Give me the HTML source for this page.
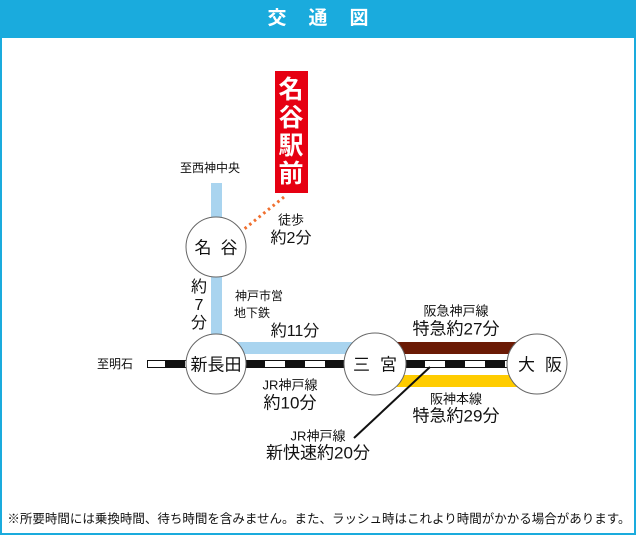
<!DOCTYPE html>
<html><head><meta charset="utf-8"><style>
html,body{margin:0;padding:0;background:#fff}
body{width:636px;height:535px;position:relative;overflow:hidden;font-family:"Liberation Sans","Noto Sans CJK JP",sans-serif;color:#111}
.frame{position:absolute;left:0;top:0;width:632px;height:531px;border:2px solid #1aabdd}
.hdr{position:absolute;left:0;top:0;width:636px;height:38px;background:#1aabdd;color:#fff;font-weight:bold;font-size:19px;text-align:center;line-height:38px;letter-spacing:22px;text-indent:22px}
.t{position:absolute;white-space:nowrap;transform:translate(-50%,-50%);line-height:1}
</style></head><body>
<div class="frame"></div>
<div class="hdr">交通図</div>
<svg width="636" height="535" style="position:absolute;left:0;top:0">
<rect x="211" y="183" width="11" height="160" fill="#a9d4ef"/>
<rect x="216" y="342" width="160" height="12" fill="#a9d4ef"/>
<rect x="397" y="342" width="120" height="12" fill="#6b1a05"/>
<rect x="397" y="375" width="120" height="12" fill="#ffcc00"/>
<rect x="147.5" y="360.5" width="360" height="7" fill="#fff" stroke="#111" stroke-width="1"/>
<line x1="147" y1="364" x2="507" y2="364" stroke="#111" stroke-width="6" stroke-dasharray="20 20" stroke-dashoffset="-18"/>
<line x1="284" y1="197" x2="243" y2="230" stroke="#f07030" stroke-width="3" stroke-dasharray="2.5 3.5"/>
<line x1="430" y1="367" x2="354" y2="438" stroke="#111" stroke-width="2"/>
<g fill="#fff" stroke="#666" stroke-width="1">
<circle cx="216" cy="247" r="30"/>
<circle cx="216" cy="364" r="30"/>
<circle cx="375" cy="364" r="31"/>
<circle cx="537" cy="364" r="30"/>
</g>
<rect x="275" y="71" width="33" height="122" fill="#e60012"/>
</svg>
<div class="t" style="left:291px;top:132px;color:#fff;font-weight:bold;font-size:25px;line-height:28px;width:26px;text-align:center;white-space:normal">名谷駅前</div>
<div class="t" style="left:210px;top:168px;font-size:12px">至西神中央</div>
<div class="t" style="left:291px;top:220px;font-size:13px">徒歩</div>
<div class="t" style="left:291px;top:239px;font-size:16px">約2分</div>
<div class="t" style="left:216px;top:248px;font-size:17px;letter-spacing:9px;text-indent:9px">名谷</div>
<div class="t" style="left:199px;top:306px;font-size:16px;line-height:18px;white-space:normal;width:18px;text-align:center">約<br>7<br>分</div>
<div class="t" style="left:259px;top:296px;font-size:12px">神戸市営</div>
<div class="t" style="left:252px;top:313px;font-size:12px">地下鉄</div>
<div class="t" style="left:295px;top:332px;font-size:16px">約11分</div>
<div class="t" style="left:456px;top:311px;font-size:13px">阪急神戸線</div>
<div class="t" style="left:456px;top:329px;font-size:17px">特急約27分</div>
<div class="t" style="left:115px;top:364px;font-size:12px">至明石</div>
<div class="t" style="left:216px;top:365px;font-size:17px">新長田</div>
<div class="t" style="left:375px;top:365px;font-size:17px;letter-spacing:10px;text-indent:10px">三宮</div>
<div class="t" style="left:540px;top:365px;font-size:17px;letter-spacing:10px;text-indent:10px">大阪</div>
<div class="t" style="left:290px;top:385px;font-size:13px">JR神戸線</div>
<div class="t" style="left:290px;top:403px;font-size:17px">約10分</div>
<div class="t" style="left:456px;top:399px;font-size:13px">阪神本線</div>
<div class="t" style="left:456px;top:416px;font-size:17px">特急約29分</div>
<div class="t" style="left:318px;top:436px;font-size:13px">JR神戸線</div>
<div class="t" style="left:318px;top:453px;font-size:17px">新快速約20分</div>
<div class="t" style="left:319px;top:519px;font-size:12.5px;letter-spacing:0px">※所要時間には乗換時間、待ち時間を含みません。また、ラッシュ時はこれより時間がかかる場合があります。</div>
</body></html>
